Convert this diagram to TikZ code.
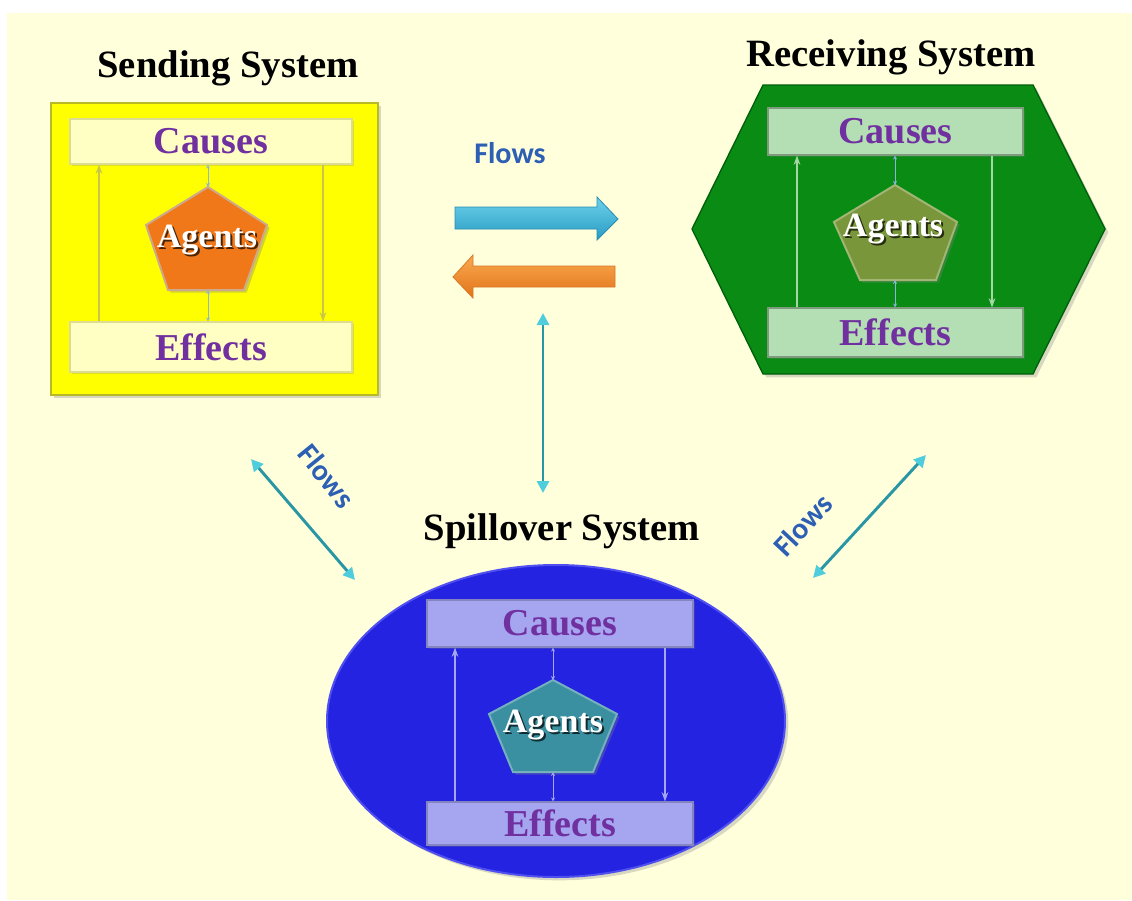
\documentclass[tikz,border=0pt]{standalone}
\usepackage{fontspec}
\setmainfont{Liberation Serif}
\newfontfamily\flowfont{Carlito}
\usetikzlibrary{arrows.meta,shapes.geometric,shadows}
\definecolor{bgc}{RGB}{255,255,220}
\definecolor{ylw}{RGB}{255,255,0}
\definecolor{ylwb}{RGB}{185,185,40}
\definecolor{ylwbox}{RGB}{255,255,195}
\definecolor{ylwarr}{RGB}{200,200,70}
\definecolor{grn}{RGB}{10,140,20}
\definecolor{grnb}{RGB}{0,95,10}
\definecolor{grnbox}{RGB}{180,222,180}
\definecolor{grnarr}{RGB}{165,215,165}
\definecolor{blu}{RGB}{35,35,225}
\definecolor{blub}{RGB}{80,80,240}
\definecolor{blubox}{RGB}{165,165,240}
\definecolor{bluarr}{RGB}{165,165,240}
\definecolor{cln}{RGB}{140,180,225}
\definecolor{purp}{RGB}{112,48,160}
\definecolor{orng}{RGB}{240,120,24}
\definecolor{agolive}{RGB}{122,150,58}
\definecolor{agteal}{RGB}{58,143,160}
\definecolor{flowc}{RGB}{45,95,180}
\definecolor{dline}{RGB}{40,150,165}
\definecolor{dhead}{RGB}{80,205,220}
\tikzset{
  title/.style={font=\fontsize{29}{34}\selectfont\bfseries, anchor=base, text=black},
  ibox/.style={rectangle, inner sep=0pt, font=\fontsize{28.5}{34}\selectfont\bfseries, text=purp,
     line width=0.8pt, drop shadow={shadow xshift=1.5pt, shadow yshift=-1.5pt, opacity=0.25}},
  agt/.style={font=\fontsize{25.5}{30}\selectfont\bfseries, text=white},
  agtsh/.style={font=\fontsize{25.5}{30}\selectfont\bfseries, text=black, opacity=0.7},
  pent/.style={line width=1.5pt, drop shadow={shadow xshift=2pt, shadow yshift=-2pt, opacity=0.35}},
  flowlbl/.style={font=\flowfont\bfseries\fontsize{22.5}{26}\selectfont, text=flowc},
  inarr/.style={-{Stealth[length=7pt,width=5pt]}, line width=1pt},
  cline/.style={{Stealth[length=3pt,width=3pt]}-{Stealth[length=3pt,width=3pt]}, line width=0.6pt, draw=cln},
  dflow/.style={{Triangle[length=9pt,width=9pt,color=dhead]}-{Triangle[length=9pt,width=9pt,color=dhead]}, line width=2.2pt, draw=dline},
  bigshadow/.style={drop shadow={shadow xshift=2.5pt, shadow yshift=-2.5pt, opacity=0.3}}
}
\begin{document}
\begin{tikzpicture}[x=0.75pt,y=-0.75pt]
\useasboundingbox (0,0) rectangle (1132,900);
\fill[white] (0,0) rectangle (1132,900);
\fill[bgc] (7,13) rectangle (1132,900);

% ---------------- Sending system ----------------
\node[title] (tsend) at (228,77) {Sending System};
\node[rectangle, fill=ylw, draw=ylwb, line width=1pt, minimum width=245.25pt, minimum height=219pt, bigshadow] (send) at (214.5,249) {};
\node[ibox, fill=ylwbox, draw=ylwb!50, minimum width=211.5pt, minimum height=33.75pt] (sc) at (211,141.5) {Causes};
\node[ibox, fill=ylwbox, draw=ylwb!50, minimum width=211.5pt, minimum height=37.5pt] (se) at (211,347) {Effects};
\filldraw[pent, fill=orng, draw={rgb,255:red,205;green,170;blue,140}] (208,187) coordinate (sat) -- (267,225) -- (244,290) -- (168,290) -- (146,225) -- cycle;
\coordinate (sab) at (208,290);
\node[agtsh] (sagsh) at (209,242) {Agents};
\node[agt] (sag) at (207,240) {Agents};
\coordinate (sxl) at (99,0);
\coordinate (sxr) at (323,0);
\coordinate (sxc) at (208,0);
\draw[inarr, draw=ylwarr] (se.north -| sxl) -- (sc.south -| sxl);
\draw[inarr, draw=ylwarr] (sc.south -| sxr) -- (se.north -| sxr);
\draw[cline] (sc.south -| sxc) -- (sat);
\draw[cline] (sab) -- (se.north -| sxc);

% ---------------- Receiving system ----------------
\node[title] (trecv) at (891,66.7) {Receiving System};
\filldraw[fill=grn, draw=grnb, line width=1pt, bigshadow] (763,85) coordinate (h1) -- (1033,85) -- (1105,229) -- (1033,374) -- (763,374) -- (692,229) -- cycle;
\node[ibox, fill=grnbox, draw=grnbox!70!black, minimum width=191.25pt, minimum height=35.25pt] (rc) at (895.5,131.5) {Causes};
\node[ibox, fill=grnbox, draw=grnbox!70!black, minimum width=191.25pt, minimum height=36.75pt] (re) at (895.5,332.5) {Effects};
\filldraw[pent, fill=agolive, draw=agolive!70!white] (895,185) coordinate (rat) -- (957,222) -- (936,280) -- (860,280) -- (834,222) -- cycle;
\coordinate (rab) at (895,280);
\node[agtsh] (ragsh) at (895,231) {Agents};
\node[agt] (rag) at (893,229) {Agents};
\coordinate (rxl) at (797,0);
\coordinate (rxr) at (992,0);
\coordinate (rxc) at (895,0);
\draw[inarr, draw=grnarr] (re.north -| rxl) -- (rc.south -| rxl);
\draw[inarr, draw=grnarr] (rc.south -| rxr) -- (re.north -| rxr);
\draw[cline] (rc.south -| rxc) -- (rat);
\draw[cline] (rab) -- (re.north -| rxc);

% ---------------- Spillover system ----------------
\node[title] (tspill) at (562,540) {Spillover System};
\node[ellipse, fill=blu, draw=blub, line width=1.5pt, minimum width=343.5pt, minimum height=234pt, inner sep=0pt, bigshadow] (spill) at (556,721) {};
\node[ibox, fill=blubox, draw=blubox!80!black, minimum width=199.5pt, minimum height=35.25pt] (pc) at (560,623.5) {Causes};
\node[ibox, fill=blubox, draw=blubox!80!black, minimum width=199.5pt, minimum height=32.25pt] (pe) at (560,823.5) {Effects};
\filldraw[pent, fill=agteal, draw=agteal!70!white] (553,680) coordinate (pat) -- (617,714) -- (593,772) -- (513,772) -- (489,714) -- cycle;
\coordinate (pab) at (553,772);
\node[agtsh] (pagsh) at (555,727) {Agents};
\node[agt] (pag) at (553,725) {Agents};
\coordinate (pxl) at (455,0);
\coordinate (pxr) at (665,0);
\coordinate (pxc) at (553,0);
\draw[inarr, draw=bluarr] (pe.north -| pxl) -- (pc.south -| pxl);
\draw[inarr, draw=bluarr] (pc.south -| pxr) -- (pe.north -| pxr);
\draw[cline, draw=bluarr] (pc.south -| pxc) -- (pat);
\draw[cline, draw=bluarr] (pab) -- (pe.north -| pxc);

% ---------------- Flows ----------------
\node[flowlbl] (f1) at (510,153) {Flows};
\path[top color={rgb,255:red,110;green,210;blue,235}, bottom color={rgb,255:red,40;green,155;blue,195}, draw={rgb,255:red,40;green,140;blue,180}, line width=0.6pt]
  (455,207) -- (597,207) -- (597,197) -- (618,219) -- (597,240) -- (597,229) -- (455,229) -- cycle;
\path[top color={rgb,255:red,250;green,170;blue,80}, bottom color={rgb,255:red,225;green,115;blue,25}, draw={rgb,255:red,215;green,120;blue,40}, line width=0.6pt]
  (615,266) -- (473,266) -- (473,255) -- (453,277) -- (473,298) -- (473,287) -- (615,287) -- cycle;

\coordinate (v1a) at (543,313);
\coordinate (v1b) at (543,493);
\draw[dflow] (v1a) -- (v1b);

\coordinate (d1a) at (251,459);
\coordinate (d1b) at (355,580);
\draw[dflow] (d1a) -- (d1b);
\node[flowlbl, rotate=-51] (f2) at (327,476) {Flows};

\coordinate (d2a) at (926,455);
\coordinate (d2b) at (813,578);
\draw[dflow] (d2a) -- (d2b);
\node[flowlbl, rotate=47] (f3) at (803,525) {Flows};
\end{tikzpicture}
\end{document}
